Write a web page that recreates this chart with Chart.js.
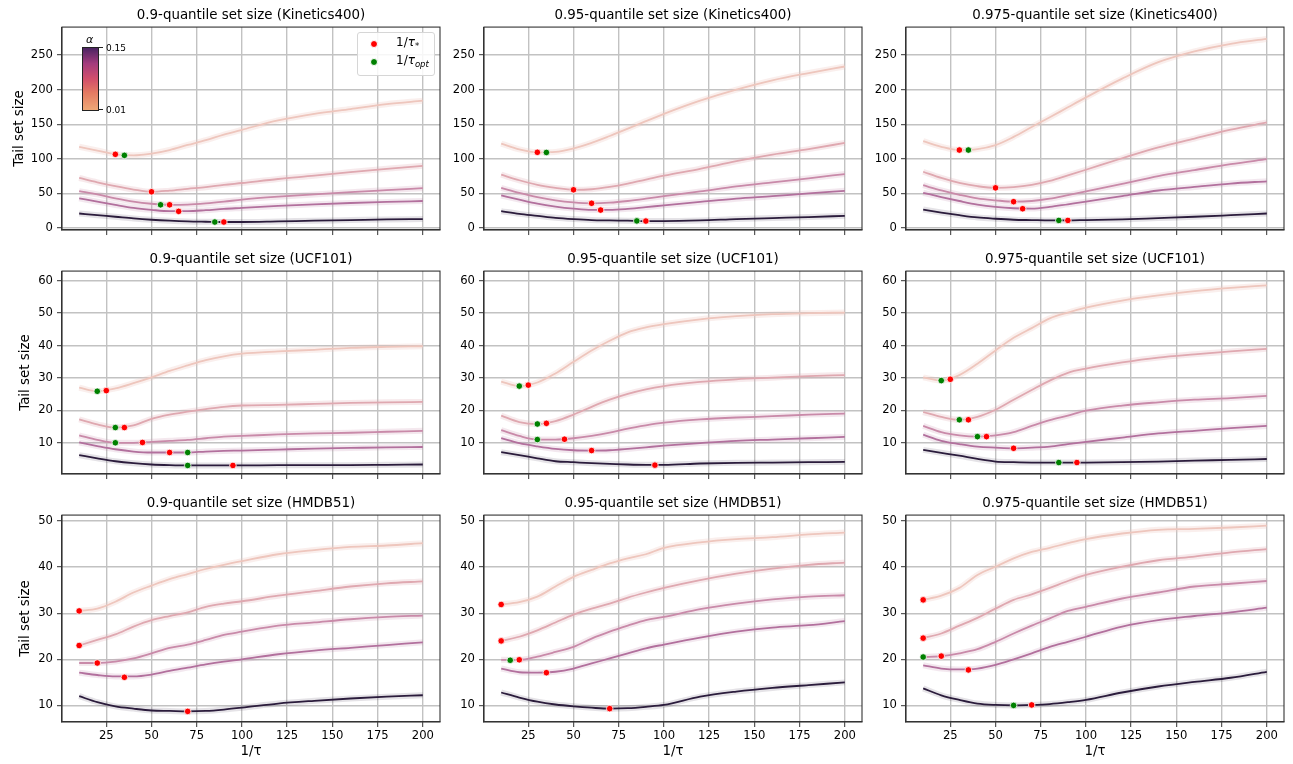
<!DOCTYPE html>
<html>
<head>
<meta charset="utf-8">
<script src="https://cdn.jsdelivr.net/npm/chart.js@4.4.1/dist/chart.umd.min.js"></script>
<style>
body { margin: 0; background: #fff; width: 1293px; height: 764px; position: relative; overflow: hidden; font-family: "DejaVu Sans", sans-serif; }
canvas { position: absolute; }
.abs { position: absolute; }
.dot { position: absolute; width: 6px; height: 6px; border-radius: 50%; border: 1px solid #fff; }
.leg { position: absolute; font-size: 12px; color: #000; white-space: nowrap; }
.leg sub { font-size: 8.5px; }
</style>
</head>
<body>
<div id="wrap"></div>

<!-- legend and colour bar of the first panel -->
<div class="abs" style="left:357px;top:32px;width:76px;height:42px;border:1px solid #d6d6d6;border-radius:3px;background:rgba(255,255,255,0.85);z-index:5;">
  <span class="dot" style="left:12px;top:7px;background:#ff0000;"></span>
  <span class="leg" style="left:38px;top:2px;">1/<i>τ</i><sub>*</sub></span>
  <span class="dot" style="left:12px;top:25px;background:#008000;"></span>
  <span class="leg" style="left:38px;top:20px;">1/<i>τ</i><sub><i>opt</i></sub></span>
</div>
<div class="abs" style="left:82px;top:47px;width:15px;height:62px;border:1px solid #222;background:linear-gradient(to top,#eea877 0%,#e47a62 28%,#d24f6b 50%,#a33b7d 75%,#4b2362 100%);z-index:5;"></div>
<div class="abs" style="left:98px;top:47px;width:5px;height:1px;background:#222;z-index:5;"></div>
<div class="abs" style="left:98px;top:109px;width:5px;height:1px;background:#222;z-index:5;"></div>
<div class="abs" style="left:106px;top:43px;font-size:9px;z-index:5;">0.15</div>
<div class="abs" style="left:106px;top:105px;font-size:9px;z-index:5;">0.01</div>
<div class="abs" style="left:86px;top:33px;font-size:11px;font-style:italic;z-index:5;">α</div>

<script>
// x positions (1/tau) where the curves were read
const xs = [10, 20, 30, 40, 50, 60, 70, 80, 90, 100, 120, 140, 160, 180, 200];

// one row per alpha, light (0.01) to dark (0.15)
const kinetics90 = [
  [117.4, 112, 106.5, 105, 107.5, 112.7, 120, 127, 135, 142, 155.5, 165, 172, 179, 184],
  [72.3, 66, 60.4, 55.6, 52.3, 54, 56.6, 59, 62.3, 65, 70.8, 75.6, 80.8, 85.6, 89.9],
  [53.3, 48.5, 42.8, 38, 35, 33.5, 33.8, 35.5, 38, 41, 45.2, 48.5, 51.8, 54.7, 57.5],
  [42.8, 38, 33.3, 29, 26.2, 24.3, 24.3, 25.7, 27.6, 29, 31.9, 34.2, 36.1, 37.6, 39],
  [20.9, 18.5, 16.2, 13.8, 11.9, 10.5, 9.5, 9, 8.6, 8.6, 9.5, 10.5, 11.4, 12.4, 12.8]
];
const kinetics90Star = [[30, 106.5], [50, 52.3], [60, 33.5], [65, 24], [90, 8.6]];
const kinetics90Opt = [[35, 105], [55, 33.5], [85, 8.6]];

const kinetics95 = [
  [122, 113.6, 109.4, 110, 115, 123, 133, 143.6, 154.5, 165, 184, 200, 213.5, 224, 233.5],
  [77, 69, 62.3, 58, 55.2, 56, 59.4, 64.2, 70, 75.6, 85.6, 96.5, 106, 114, 123],
  [58, 50.9, 44.7, 40, 37, 35.7, 36.6, 39, 42.3, 46, 52.8, 60, 66, 71.8, 78],
  [47, 41, 35.2, 31, 28, 26.2, 26.2, 27.6, 30, 32.8, 37.6, 42.3, 46, 50, 53.7],
  [24.3, 20.4, 17.6, 14.7, 12.8, 11.4, 10.9, 10.5, 10, 10, 10.9, 12.8, 14.3, 15.7, 17.6]
];
const kinetics95Star = [[30, 109.4], [50, 55.2], [60, 35.7], [65, 25.9], [90, 10]];
const kinetics95Opt = [[35, 109.2], [85, 10.2]];

const kinetics975 = [
  [125.5, 117.4, 112.7, 114, 119.8, 131.7, 146, 160, 174.5, 188.8, 215.9, 239.7, 255.3, 266.3, 273.4],
  [81.3, 72.3, 65.1, 60.4, 58, 59, 62.3, 68, 76, 84.2, 100.8, 116.5, 129.3, 142.2, 152.6],
  [61.8, 54.2, 48, 42.8, 40, 38, 39, 42.3, 47.5, 52.8, 63.7, 75.1, 83.7, 92.2, 99.4],
  [50.9, 44.7, 39, 33.8, 30.4, 28.5, 28, 30.4, 34.2, 38, 46.1, 54.2, 59.4, 64.2, 67.5],
  [26.6, 22.3, 18.5, 15.2, 13.3, 11.9, 11.4, 10.9, 10.9, 11.4, 12.4, 14.3, 16.2, 18.5, 20.9]
];
const kinetics975Star = [[30, 112.7], [50, 58], [60, 38], [65, 27.8], [90, 10.9]];
const kinetics975Opt = [[35, 112.7], [85, 10.9]];

const ucf90 = [
  [27, 25.9, 26.8, 28.4, 30.2, 32.2, 33.9, 35.5, 36.7, 37.5, 38.2, 38.7, 39.3, 39.6, 39.8],
  [17.2, 15.7, 14.7, 15.4, 17.4, 18.7, 19.6, 20.4, 21.1, 21.5, 21.7, 22, 22.3, 22.5, 22.6],
  [12.3, 10.9, 10, 10, 10.3, 10.6, 10.9, 11.4, 11.9, 12.1, 12.6, 12.9, 13.1, 13.4, 13.7],
  [10.1, 9, 8, 7.3, 7, 7, 7, 7.3, 7.5, 7.6, 7.9, 8.2, 8.4, 8.6, 8.7],
  [6.2, 5.2, 4.3, 3.7, 3.3, 3.1, 3, 3, 3, 3, 3.1, 3.1, 3.1, 3.2, 3.3]
];
const ucf90Star = [[25, 26.1], [35, 14.7], [45, 10.1], [60, 7], [95, 3]];
const ucf90Opt = [[20, 25.9], [30, 14.7], [30, 10], [70, 7], [70, 3]];

const ucf95 = [
  [28.9, 27.5, 28.6, 31.4, 35, 38.5, 41.5, 44.1, 45.6, 46.6, 48.1, 49.1, 49.7, 50, 50.2],
  [18.4, 16.4, 15.8, 16.7, 18.7, 21.1, 23.3, 25.1, 26.5, 27.5, 28.8, 29.6, 30.1, 30.6, 30.9],
  [13.9, 12.1, 11, 11, 11.4, 12.1, 13.1, 14.4, 15.4, 16.2, 17.2, 17.8, 18.2, 18.7, 19],
  [11.4, 9.9, 8.9, 8.1, 7.7, 7.6, 7.7, 8.1, 8.6, 9.1, 9.9, 10.6, 11, 11.4, 11.8],
  [7.1, 6.2, 5.2, 4.3, 4, 3.7, 3.5, 3.3, 3.2, 3.2, 3.6, 3.8, 3.9, 4, 4.1]
];
const ucf95Star = [[25, 27.8], [35, 16], [45, 11.1], [60, 7.6], [95, 3.1]];
const ucf95Opt = [[20, 27.5], [30, 15.8], [30, 11]];

const ucf975 = [
  [30.2, 29.2, 30.9, 34.4, 38.5, 42.4, 45.4, 48.4, 50.2, 51.7, 53.9, 55.5, 56.8, 57.8, 58.6],
  [19.5, 18, 17.1, 18, 20.2, 23.3, 26.3, 29.2, 31.6, 32.9, 34.8, 36.3, 37.3, 38.2, 39],
  [15.2, 13.3, 12.3, 11.9, 12.3, 13.3, 15.2, 17, 18.4, 19.9, 21.5, 22.5, 23.3, 23.8, 24.5],
  [12.5, 10.6, 9.6, 8.8, 8.5, 8.3, 8.5, 8.8, 9.6, 10.3, 11.6, 12.9, 13.7, 14.5, 15.2],
  [7.8, 6.9, 6, 5, 4.2, 4, 3.9, 3.9, 3.9, 3.9, 4, 4.2, 4.5, 4.7, 5]
];
const ucf975Star = [[25, 29.6], [35, 17.1], [45, 11.9], [60, 8.3], [95, 3.9]];
const ucf975Opt = [[20, 29.2], [30, 17.1], [40, 11.9], [85, 3.9]];

const hmdb90 = [
  [30.5, 31, 32.5, 34.5, 36, 37.4, 38.5, 39.6, 40.5, 41.3, 42.8, 43.7, 44.4, 44.7, 45.2],
  [23, 24.2, 25.4, 27.1, 28.5, 29.4, 30.2, 31.4, 32.1, 32.6, 33.8, 34.8, 35.8, 36.5, 36.9],
  [19.2, 19.2, 19.5, 20.2, 21.3, 22.5, 23.2, 24.2, 25.3, 26, 27.3, 28, 28.7, 29.2, 29.5],
  [17.1, 16.6, 16.3, 16.3, 16.7, 17.5, 18.2, 18.9, 19.5, 20, 21.1, 21.9, 22.5, 23.1, 23.7],
  [12, 10.7, 9.8, 9.3, 8.9, 8.8, 8.7, 8.8, 9.1, 9.5, 10.4, 11, 11.5, 11.9, 12.2]
];
const hmdb90Star = [[10, 30.5], [10, 23], [20, 19.2], [35, 16.1], [70, 8.7]];
const hmdb90Opt = [];

const hmdb95 = [
  [31.9, 32.4, 33.6, 35.8, 37.9, 39.4, 40.8, 41.9, 42.8, 44.2, 45.4, 46.1, 46.5, 47.1, 47.5],
  [24, 24.9, 26.3, 28, 29.7, 31, 32.1, 33.4, 34.5, 35.5, 37.2, 38.6, 39.7, 40.5, 41],
  [19.9, 19.9, 20.6, 21.6, 22.7, 24.5, 26, 27.3, 28.5, 29.2, 30.9, 32.1, 33, 33.6, 33.9],
  [18, 17.2, 17.1, 17.3, 18, 19.1, 20.2, 21.3, 22.4, 23.2, 24.7, 26, 26.9, 27.4, 28.3],
  [12.8, 11.7, 10.8, 10.2, 9.8, 9.5, 9.3, 9.4, 9.7, 10.1, 11.9, 13, 13.8, 14.4, 15]
];
const hmdb95Star = [[10, 31.9], [10, 24], [20, 19.9], [35, 17.1], [70, 9.3]];
const hmdb95Opt = [[15, 19.8]];

const hmdb975 = [
  [32.9, 33.8, 35.5, 38.3, 40.1, 41.9, 43.3, 44.2, 45.2, 46.1, 47.3, 48.1, 48.3, 48.6, 49],
  [24.6, 25.6, 27.3, 29, 31, 32.9, 34.1, 35.5, 37, 38.3, 40.1, 41.5, 42.3, 43.2, 43.9],
  [20.5, 20.7, 21.3, 22.2, 23.8, 25.6, 27.3, 28.9, 30.5, 31.4, 33.2, 34.5, 35.8, 36.4, 37],
  [18.7, 18, 17.8, 18, 18.8, 20, 21.3, 22.7, 23.8, 24.9, 27.1, 28.5, 29.4, 30.2, 31.2],
  [13.7, 12.2, 11.2, 10.4, 10.1, 10, 10.1, 10.3, 10.7, 11.2, 12.8, 14.1, 15.1, 16, 17.3]
];
const hmdb975Star = [[10, 32.9], [10, 24.6], [20, 20.7], [35, 17.7], [70, 10.1]];
const hmdb975Opt = [[10, 20.5], [60, 10]];

const titles = [
  '0.9-quantile set size (Kinetics400)', '0.95-quantile set size (Kinetics400)', '0.975-quantile set size (Kinetics400)',
  '0.9-quantile set size (UCF101)', '0.95-quantile set size (UCF101)', '0.975-quantile set size (UCF101)',
  '0.9-quantile set size (HMDB51)', '0.95-quantile set size (HMDB51)', '0.975-quantile set size (HMDB51)'
];
const yMins = [-3, 0.35, 6.4];
const yMaxs = [290.5, 63, 51.3];
const ySteps = [50, 10, 10];

const lineColors = ['#eec6bd', '#dfa8b0', '#c98aa9', '#b2709d', '#2b1c3c'];
const haloColors = ['rgba(238,198,189,0.28)', 'rgba(223,168,176,0.24)', 'rgba(201,138,169,0.2)', 'rgba(178,112,157,0.16)', 'rgba(43,28,60,0.12)'];

const panels = [
  [kinetics90, kinetics90Star, kinetics90Opt], [kinetics95, kinetics95Star, kinetics95Opt], [kinetics975, kinetics975Star, kinetics975Opt],
  [ucf90, ucf90Star, ucf90Opt], [ucf95, ucf95Star, ucf95Opt], [ucf975, ucf975Star, ucf975Opt],
  [hmdb90, hmdb90Star, hmdb90Opt], [hmdb95, hmdb95Star, hmdb95Opt], [hmdb975, hmdb975Star, hmdb975Opt]
];

// page layout of the plot boxes
const plotLefts = [62, 484, 906];
const plotTops = [27, 271, 515];
const AXW = 62;

Chart.defaults.font.family = '"DejaVu Sans", sans-serif';
Chart.defaults.color = '#000';

const frame = {
  id: 'frame',
  afterDraw(chart) {
    const { ctx, chartArea: a } = chart;
    ctx.save();
    ctx.strokeStyle = '#333';
    ctx.lineWidth = 1.1;
    ctx.strokeRect(a.left, a.top, a.width, a.height);
    ctx.restore();
  }
};

const wrap = document.getElementById('wrap');

panels.forEach(([lines, stars, opts], p) => {
    const r = Math.floor(p / 3), c = p % 3;
    const bottom = r === 2;
    const cv = document.createElement('canvas');
    cv.width = AXW + 378 + 6;
    cv.height = bottom ? 273 : 238;
    cv.style.left = (plotLefts[c] - AXW) + 'px';
    cv.style.top = (plotTops[r] - 24) + 'px';
    wrap.appendChild(cv);

    const datasets = [];
    lines.forEach((vals, i) => {
        const pts = xs.map((x, k) => ({ x: x, y: vals[k] }));
        datasets.push({ data: pts, borderColor: haloColors[i], borderWidth: 6, pointRadius: 0, cubicInterpolationMode: 'monotone', order: 3 });
        datasets.push({ data: pts, borderColor: lineColors[i], borderWidth: 1.8, pointRadius: 0, cubicInterpolationMode: 'monotone', order: 2 });
    });
    datasets.push({ data: stars.map(([x, y]) => ({ x, y })), showLine: false, pointRadius: 3.3, backgroundColor: '#ff0000', borderColor: '#fff', borderWidth: 0.8, order: 1 });
    datasets.push({ data: opts.map(([x, y]) => ({ x, y })), showLine: false, pointRadius: 3.3, backgroundColor: '#008000', borderColor: '#fff', borderWidth: 0.8, order: 0 });

    const grid = { color: '#c2c2c2', lineWidth: 1.4, tickLength: 5, tickColor: '#333', tickWidth: 1 };

    new Chart(cv, {
        type: 'line',
        data: { datasets: datasets },
        plugins: [frame],
        options: {
            responsive: false,
            animation: false,
            events: [],
            layout: { padding: { left: 0, right: 6, top: 0, bottom: 0 } },
            scales: {
                x: {
                    type: 'linear',
                    min: 0.5,
                    max: 209.5,
                    afterFit: (s) => { s.height = bottom ? 42 : 8; },
                    ticks: { stepSize: 25, includeBounds: false, display: bottom, padding: 2, font: { size: 11.6 }, maxRotation: 0 },
                    grid: grid,
                    border: { color: '#333', width: 1.1 },
                    title: { display: bottom, text: '1/τ', font: { size: 13.4 }, padding: { top: 0, bottom: 4 } }
                },
                y: {
                    type: 'linear',
                    min: yMins[r],
                    max: yMaxs[r],
                    afterFit: (s) => { s.width = AXW; },
                    ticks: { stepSize: ySteps[r], includeBounds: false, padding: 4, font: { size: 11.6 } },
                    grid: grid,
                    border: { color: '#333', width: 1.1 },
                    title: { display: c === 0, text: 'Tail set size', font: { size: 13.4 }, padding: { top: r === 0 ? 11 : 17, bottom: 0 } }
                }
            },
            plugins: {
                legend: { display: false },
                tooltip: { enabled: false },
                title: { display: true, fullSize: false, text: titles[p], font: { size: 13.4, weight: 'normal' }, padding: { top: 4, bottom: 4 } }
            }
        }
    });
});
</script>
</body>
</html>
